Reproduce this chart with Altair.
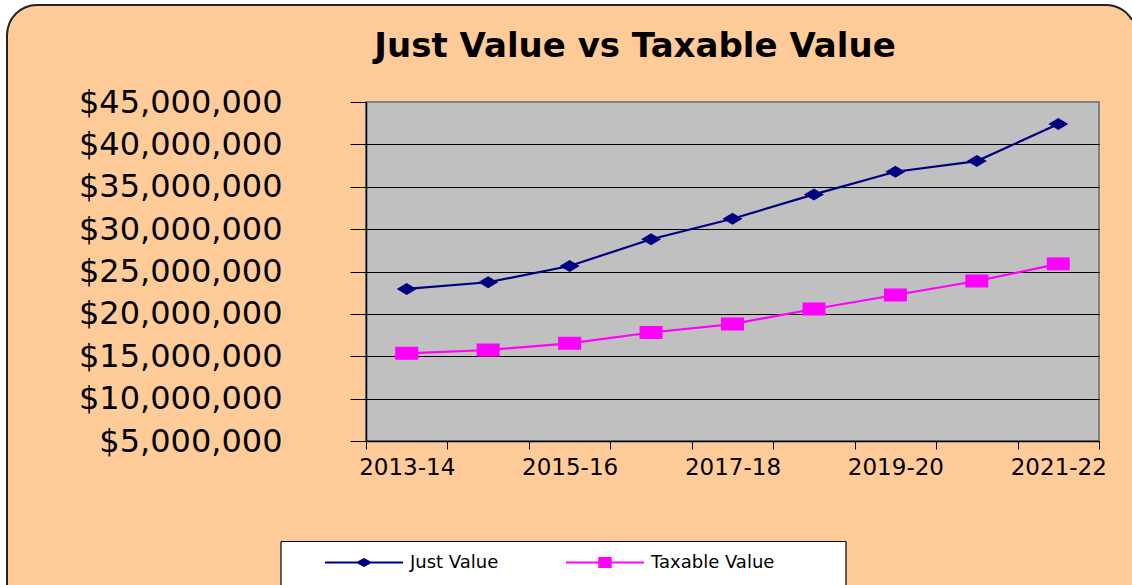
import altair as alt
import pandas as pd

# ---- data ----
seasons = ["2013-14", "2014-15", "2015-16", "2016-17", "2017-18",
           "2018-19", "2019-20", "2020-21", "2021-22"]
just_value = [22940000, 23730000, 25650000, 28800000, 31230000,
              34100000, 36770000, 38030000, 42400000]
taxable_value = [15350000, 15740000, 16530000, 17800000, 18800000,
                 20580000, 22230000, 23880000, 25900000]
series_names = ["Just Value", "Taxable Value"]
series_colors = ["#000080", "#FF00FF"]
y_ticks = [5000000, 10000000, 15000000, 20000000, 25000000,
           30000000, 35000000, 40000000, 45000000]
shown_labels = seasons[::2]
chart_title = ["Just Value vs Taxable Value"]

rows = []
for s, j, t in zip(seasons, just_value, taxable_value):
    rows.append({"season": s, "series": series_names[0], "value": j})
    rows.append({"season": s, "series": series_names[1], "value": t})
df = pd.DataFrame(rows)
one = pd.DataFrame({"t": chart_title})

W, H = 733, 339
PAD_L, PAD_T = 366, 102
FONT = "DejaVu Sans"
EDGE = "#222222"

label_expr = ("indexof([" + ",".join("'%s'" % s for s in shown_labels) +
              "], datum.value) >= 0 ? datum.label : ''")

x_enc = alt.X(
    "season:N", sort=seasons,
    scale=alt.Scale(type="band", paddingInner=0, paddingOuter=0),
    axis=alt.Axis(title=None, tickBand="extent", labelExpr=label_expr,
                  labelAngle=0, labelOverlap=False, labelFont=FONT,
                  labelFontSize=23, labelColor="#000", labelPadding=7,
                  tickSize=8, tickColor="#000", domainColor="#000",
                  domainWidth=1.5, grid=False),
)
y_enc = alt.Y(
    "value:Q",
    scale=alt.Scale(domain=[5000000, 45000000], nice=False, zero=False),
    axis=alt.Axis(title=None, values=y_ticks, format="$,.0f",
                  labelFont=FONT, labelFontSize=32, labelColor="#000",
                  labelLimit=400, labelPadding=68, tickSize=16,
                  tickColor="#000", domainColor="#000", domainWidth=1.5,
                  grid=True,
                  gridColor={"condition": {"test": "datum.value >= 45000000",
                                           "value": "#808080"},
                             "value": "#000000"},
                  gridWidth=1, gridOpacity=1),
)
color_scale = alt.Scale(range=series_colors)


def vrect(x, x2, y, y2, **kw):
    return alt.Chart(one).mark_rect(**kw).encode(
        x=alt.value(x), x2=alt.value(x2), y=alt.value(y), y2=alt.value(y2))


def vrule(x, x2, y, y2, **kw):
    return alt.Chart(one).mark_rule(**kw).encode(
        x=alt.value(x), x2=alt.value(x2), y=alt.value(y), y2=alt.value(y2))


# ---- decorative rounded panel, kept inside the canvas ----
white_left = vrect(-366, -359, -102, 483, fill="white")
white_top = vrect(-366, 766, -102, -97, fill="white")
tl_corner = alt.Chart(one).mark_arc(
    radius=43, radius2=30, theta=4.7124, theta2=6.2832, fill="white"
).encode(x=alt.value(-329), y=alt.value(-67))
tr_path = ("M0,-3.1L2.6,-3.1L2.6,-1.5L2.598,-1.5L2.298,-1.928L1.928,-2.298"
           "L1.5,-2.598L1.026,-2.819L0.521,-2.954L0,-3Z")
tr_corner = alt.Chart(one).mark_point(
    shape=tr_path, size=400, filled=True, fill="white", opacity=1,
    strokeWidth=0
).encode(x=alt.value(740), y=alt.value(-67))
tl_arc = alt.Chart(one).mark_arc(
    radius=31, radius2=29, theta=4.7124, theta2=6.2832, fill=EDGE
).encode(x=alt.value(-329), y=alt.value(-67))
tr_arc = alt.Chart(one).mark_arc(
    radius=31, radius2=29, theta=0, theta2=1.04, fill=EDGE
).encode(x=alt.value(740), y=alt.value(-67))
left_edge = vrule(-359, -359, -67, 483, color=EDGE, strokeWidth=2)
top_edge = vrule(-329, 740, -97, -97, color=EDGE, strokeWidth=2)

# legend box (open at the bottom, like the cropped reference)
lg_fill = vrect(-85, 480, 439.5, 483, fill="white")
lg_top = vrule(-85, 480, 439.5, 439.5, color="#000", strokeWidth=1.2)
lg_left = vrule(-85, -85, 439.5, 483, color="#000", strokeWidth=1.2)
lg_right = vrule(480, 480, 439.5, 483, color="#000", strokeWidth=1.2)

title = alt.Chart(one).mark_text(
    font=FONT, fontSize=34, fontWeight="bold", color="#000",
    align="center", baseline="alphabetic"
).encode(x=alt.value(269), y=alt.value(-45), text="t:N")

lines = alt.Chart(df).mark_line(strokeWidth=2.2).encode(
    x=x_enc, y=y_enc,
    color=alt.Color("series:N", scale=color_scale, legend=None),
    detail="series:N",
)

diamond_path = "M-1,0L0,-0.6L1,0L0,0.6Z"
square_path = "M-1.15,-0.65L1.15,-0.65L1.15,0.65L-1.15,0.65Z"

just_pts = alt.Chart(df).transform_filter(
    alt.datum.series == series_names[0]
).mark_point(shape=diamond_path, filled=True, size=400, opacity=1,
             strokeWidth=0).encode(
    x=x_enc, y=y_enc,
    color=alt.Color("series:N", scale=color_scale, legend=None),
)
tax_pts = alt.Chart(df).transform_filter(
    alt.datum.series == series_names[1]
).mark_point(shape=square_path, filled=True, size=400, opacity=1,
             strokeWidth=0).encode(
    x=x_enc, y=y_enc,
    color=alt.Color("series:N", scale=color_scale, legend=None),
)

legend_just = ("M-3.9,-0.1L3.9,-0.1L3.9,0.1L-3.9,0.1Z "
               "M-0.85,0L0,-0.45L0.85,0L0,0.45Z")
legend_tax = ("M-3.9,-0.1L3.9,-0.1L3.9,0.1L-3.9,0.1Z "
              "M-0.67,-0.54L0.67,-0.54L0.67,0.54L-0.67,0.54Z")

legend_kw = dict(
    title=None, orient="none", legendX=-85, legendY=439.5,
    direction="horizontal", columns=2, padding=11, symbolSize=400,
    symbolOffset=62, labelOffset=36, columnPadding=34, labelFont=FONT,
    labelFontSize=18, labelColor="#000", symbolStrokeWidth=0,
    symbolOpacity=1,
)
legend_layer = alt.Chart(df).transform_filter(
    "datum.value < 0"
).mark_point(filled=True, opacity=1, size=400).encode(
    x=x_enc, y=y_enc,
    fill=alt.Fill("series:N",
                  scale=alt.Scale(domain=series_names, range=series_colors),
                  legend=alt.Legend(**legend_kw)),
    shape=alt.Shape("series:N",
                    scale=alt.Scale(domain=series_names,
                                    range=[legend_just, legend_tax]),
                    legend=alt.Legend(**legend_kw)),
)

chart = alt.layer(
    white_left, white_top, tl_corner, tr_corner, tl_arc, tr_arc,
    left_edge, top_edge, lg_fill, lg_top, lg_left, lg_right, title,
    lines, just_pts, tax_pts, legend_layer
).properties(
    width=W, height=H,
    autosize=alt.AutoSizeParams(type="none"),
    padding={"left": PAD_L, "top": PAD_T, "right": 1132 - PAD_L - W,
             "bottom": 585 - PAD_T - H},
    background="#FFCC99",
).configure_view(
    fill="#C0C0C0", stroke="#808080", strokeWidth=2
)

chart.save("out.html", embed_options={"renderer": "svg", "actions": False})
